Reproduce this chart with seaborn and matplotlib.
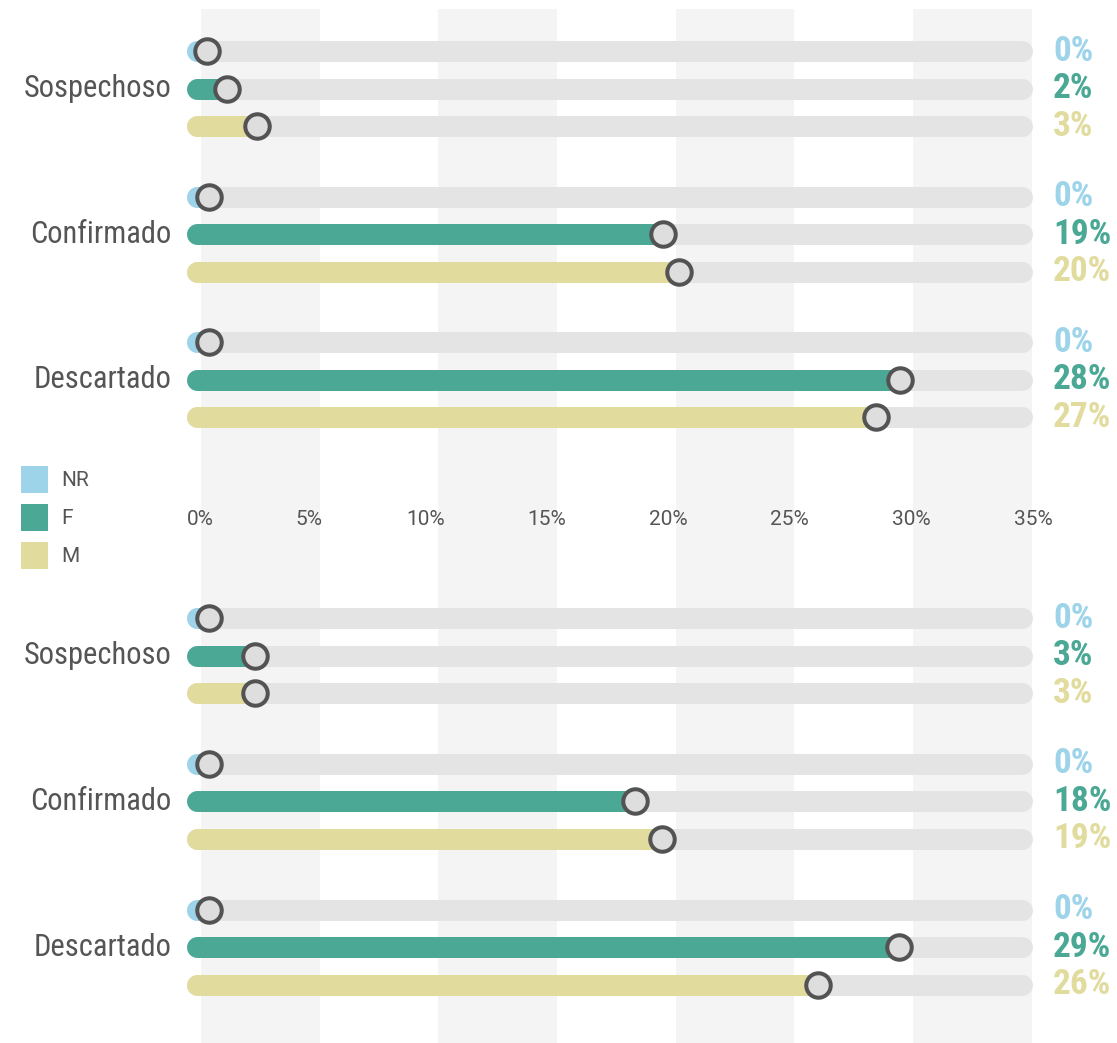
import numpy as np
import pandas as pd
import matplotlib
matplotlib.use("Agg")
import matplotlib.pyplot as plt
import matplotlib.transforms as mtransforms
from matplotlib import font_manager
from matplotlib.patches import Patch
import seaborn as sns

# ---------------- data ----------------
categories = ["Sospechoso", "Confirmado", "Descartado"]
series = ["NR", "F", "M"]

# bar lengths (percent)
top_NR = [1.03, 1.11, 1.11]
top_F = [1.86, 19.80, 29.51]
top_M = [3.08, 20.45, 28.54]
bottom_NR = [1.11, 1.11, 1.11]
bottom_F = [2.99, 18.62, 29.48]
bottom_M = [2.99, 19.74, 26.15]

# printed value labels (percent)
top_NR_lbl = [0, 0, 0]
top_F_lbl = [2, 19, 28]
top_M_lbl = [3, 20, 27]
bottom_NR_lbl = [0, 0, 0]
bottom_F_lbl = [3, 18, 29]
bottom_M_lbl = [3, 19, 26]

x_ticks = [0, 5, 10, 15, 20, 25, 30, 35]
x_tick_labels = ["0%", "5%", "10%", "15%", "20%", "25%", "30%", "35%"]

# ---------------- style ----------------
colors = {"NR": "#9dd4ea", "F": "#4aa894", "M": "#e1dc9d"}
track_color = "#e4e4e4"
stripe_color = "#f4f4f4"
circle_face = "#dedede"
circle_edge = "#535353"
text_color = "#555555"

sns.set_theme(style="white")
avail = {f.name for f in font_manager.fontManager.ttflist}
cond = None
for cand in ["Roboto Condensed", "Liberation Sans Narrow", "Arial Narrow"]:
    if cand in avail:
        cond = cand
        break
if cond is None:
    cond = "Roboto" if "Roboto" in avail else "DejaVu Sans"
reg = "Roboto" if "Roboto" in avail else "DejaVu Sans"
plt.rcParams["font.family"] = [reg, "DejaVu Sans"]

cat_size = 22
val_size = 25.5
tick_size = 15

# ---------------- build long table ----------------
rows = []
panel_vals = [
    (top_NR, top_F, top_M, top_NR_lbl, top_F_lbl, top_M_lbl),
    (bottom_NR, bottom_F, bottom_M, bottom_NR_lbl, bottom_F_lbl, bottom_M_lbl),
]
panel_gap = 15.13
group_gap = 3.883
for p, (nr, f, m, nrl, fl, ml) in enumerate(panel_vals):
    vals = {"NR": nr, "F": f, "M": m}
    lbls = {"NR": nrl, "F": fl, "M": ml}
    for g, cat in enumerate(categories):
        for s, ser in enumerate(series):
            rows.append(dict(panel=p, category=cat, series=ser,
                             value=vals[ser][g], label=lbls[ser][g],
                             y=p * panel_gap + g * group_gap + s))
df = pd.DataFrame(rows)

# ---------------- figure ----------------
W, H = 1117, 1043
fig = plt.figure(figsize=(W / 100, H / 100), dpi=100)
ax = fig.add_axes([182 / W, 0, 851 / W, 1 - 9 / H])
ax.set_xlim(0, 35)
ax.set_ylim(26.453, -1.12)
ax.set_facecolor("none")
for sp in ax.spines.values():
    sp.set_visible(False)
ax.set_yticks([])

# background stripes (7 equal bands)
edges = np.linspace(0.78, 34.94, 8)
for i in range(7):
    if i % 2 == 0:
        ax.axvspan(edges[i], edges[i + 1], color=stripe_color, zorder=0, lw=0)

bar_lw = 15.1
bar_start = 0.6
track_end = 34.53

tracks = ax.hlines(df["y"], bar_start, track_end, colors=track_color,
                   linewidth=bar_lw, zorder=1)
tracks.set_capstyle("round")
bars = ax.hlines(df["y"], bar_start, df["value"],
                 colors=[colors[s] for s in df["series"]],
                 linewidth=bar_lw, zorder=2)
bars.set_capstyle("round")

sns.scatterplot(data=df, x="value", y="y", ax=ax, s=310, color=circle_face,
                edgecolor=circle_edge, linewidth=2.9, zorder=3, legend=False)
ax.set_xlabel("")
ax.set_ylabel("")

# category labels
for p in range(2):
    for g, cat in enumerate(categories):
        ax.text(-0.45, p * panel_gap + g * group_gap + 1, cat, ha="right",
                va="center", fontsize=cat_size, color=text_color,
                family=[cond, "DejaVu Sans"], clip_on=False)

# value labels
for _, r in df.iterrows():
    ax.text(35.82, r["y"], f"{r['label']}%", ha="left", va="center",
            fontsize=val_size, fontweight="bold", color=colors[r["series"]],
            family=[cond, "DejaVu Sans"], clip_on=False)

# middle axis tick labels (x axis moved to the gap between the panels)
ax.spines["bottom"].set_position(("axes", (1043 - 510) / 1034))
ax.set_xticks(x_ticks)
ax.set_xticklabels(x_tick_labels, fontsize=tick_size, color=text_color)
ax.tick_params(axis="x", length=0, pad=0, bottom=True)
ax.xaxis.set_ticks_position("bottom")
labs = ax.get_xticklabels()
labs[0].set_transform(labs[0].get_transform() + mtransforms.ScaledTranslation(18 / 100, 0, fig.dpi_scale_trans))
labs[1].set_transform(labs[1].get_transform() + mtransforms.ScaledTranslation(5 / 100, 0, fig.dpi_scale_trans))

# legend
handles = [Patch(facecolor=colors[s], edgecolor="none", label=s) for s in series]
leg = fig.legend(handles=handles, loc="upper left",
                 bbox_to_anchor=(21 / W, 1 - 466 / H), frameon=False,
                 fontsize=tick_size, handlelength=1.3, handleheight=1.62,
                 handletextpad=0.62, labelspacing=0.52, borderpad=0,
                 borderaxespad=0)
for t in leg.get_texts():
    t.set_color(text_color)

fig.savefig("out.png", dpi=100)
